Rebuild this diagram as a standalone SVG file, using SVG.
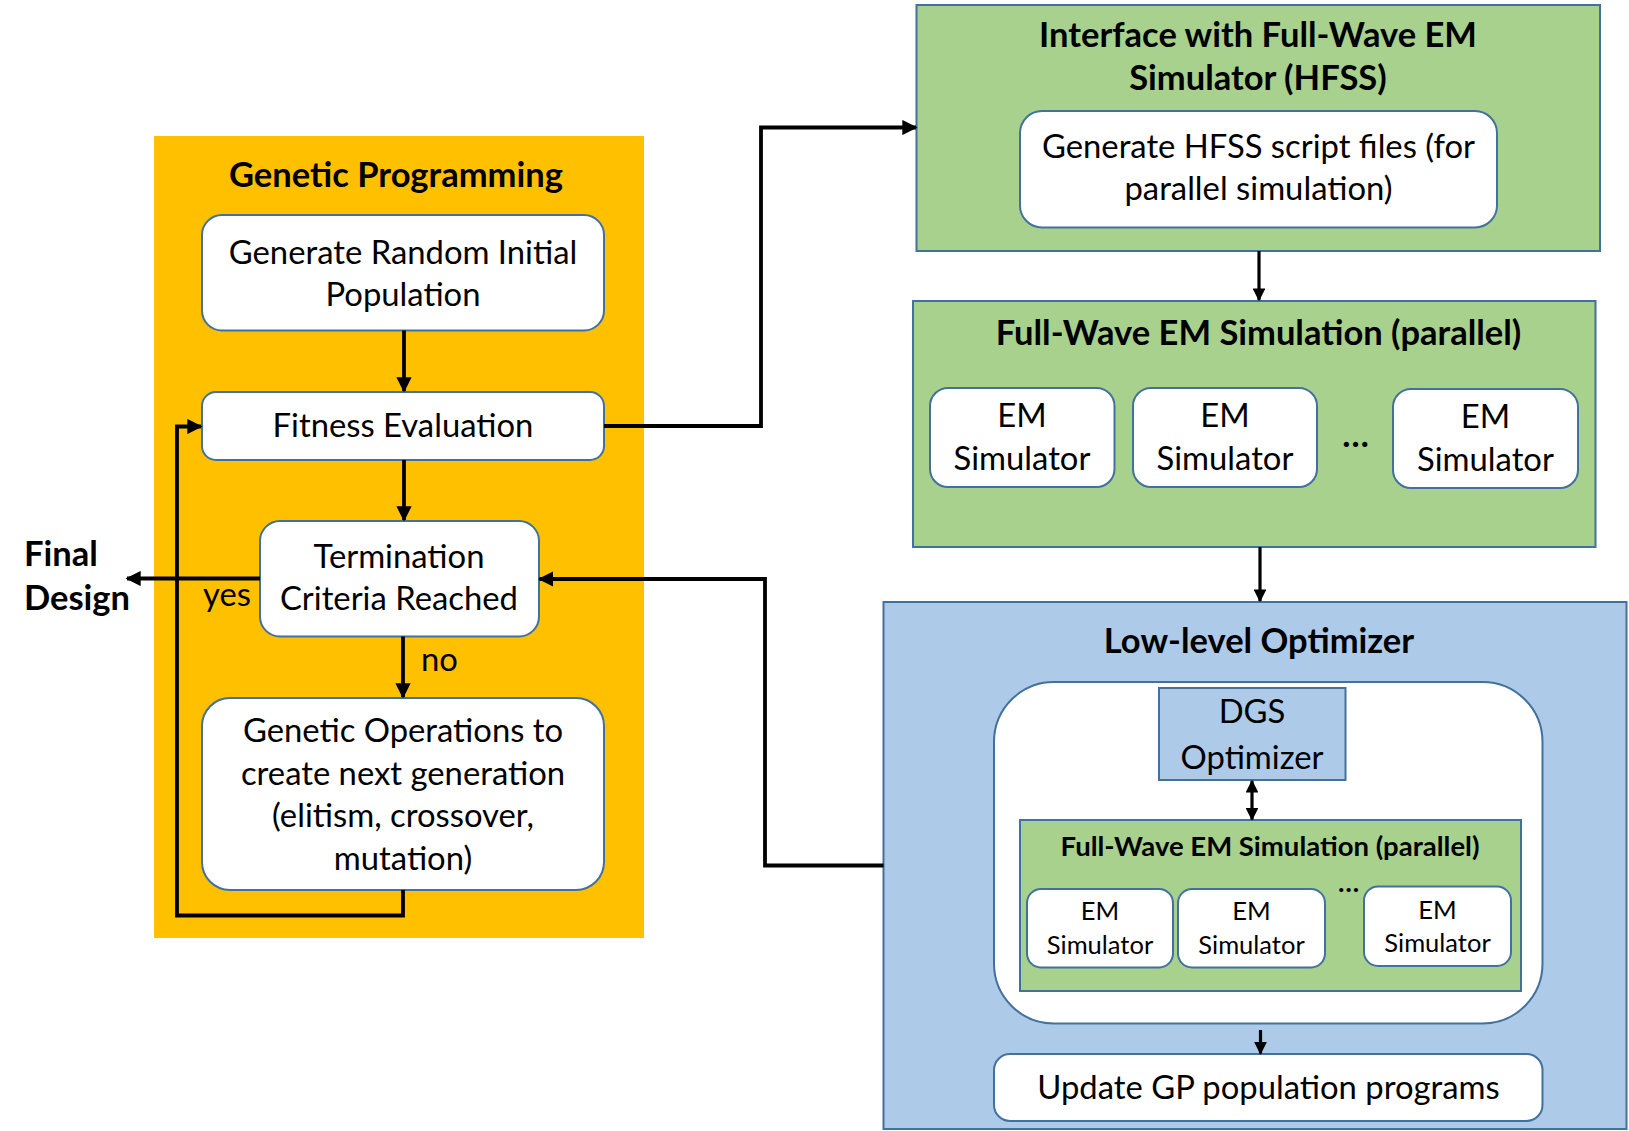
<svg xmlns="http://www.w3.org/2000/svg" width="1629" height="1131" viewBox="0 0 1629 1131">
<defs>
<style>
.t{font-family:Lato,"Liberation Sans",sans-serif;font-size:32.8px;fill:#000;text-anchor:middle}
.b{font-weight:bold;font-size:34.5px}
.s{font-size:25.5px}
.bs{font-weight:bold;font-size:27.5px}
.box{fill:#fff;stroke:#41719C;stroke-width:2}
.grn{fill:#A9D18E;stroke:#41719C;stroke-width:2}
.blu{fill:#ADCBE9;stroke:#41719C;stroke-width:2}
.ln{fill:none;stroke:#000;stroke-width:3.8}
.ln2{fill:none;stroke:#000;stroke-width:3.2}
</style>
<marker id="ah" viewBox="0 0 10 10" refX="9" refY="5" markerWidth="4" markerHeight="4" orient="auto-start-reverse" markerUnits="strokeWidth">
<path d="M0,0 L10,5 L0,10 z" fill="#000"/>
</marker>
</defs>
<rect width="1629" height="1131" fill="#fff"/>

<g id="gp">
<rect x="154" y="136" width="490" height="802" fill="#FFC000"/>
<text class="t b" x="396" y="187">Genetic Programming</text>
</g>

<g id="init">
<rect class="box" x="202" y="215" width="402" height="115.5" rx="20"/>
<text class="t" x="403" y="264">Generate Random Initial</text>
<text class="t" x="403" y="306">Population</text>
</g>

<g id="fitness">
<rect class="box" x="202" y="392" width="402" height="68" rx="14"/>
<text class="t" x="403" y="437">Fitness Evaluation</text>
</g>

<g id="term">
<rect class="box" x="260" y="521" width="279" height="115.5" rx="20"/>
<text class="t" x="399" y="568">Termination</text>
<text class="t" x="399" y="610">Criteria Reached</text>
</g>

<g id="genops">
<rect class="box" x="202" y="698" width="402" height="192" rx="28"/>
<text class="t" x="403" y="742">Genetic Operations to</text>
<text class="t" x="403" y="784.5">create next generation</text>
<text class="t" x="403" y="827">(elitism, crossover,</text>
<text class="t" x="403" y="869.5">mutation)</text>
</g>

<g id="final">
<text class="t b" x="24" y="566" style="text-anchor:start">Final</text>
<text class="t b" x="24" y="610" style="text-anchor:start">Design</text>
</g>

<g id="labels">
<text class="t" x="203" y="606" style="text-anchor:start">yes</text>
<text class="t" x="421" y="671" style="text-anchor:start">no</text>
</g>

<g id="interface">
<rect class="grn" x="916.5" y="5" width="683.5" height="246"/>
<text class="t b" x="1258" y="47">Interface with Full-Wave EM</text>
<text class="t b" x="1258" y="90">Simulator (HFSS)</text>
<rect class="box" x="1020" y="111" width="477" height="116.5" rx="22"/>
<text class="t" x="1258.5" y="158">Generate HFSS script files (for</text>
<text class="t" x="1258.5" y="200">parallel simulation)</text>
</g>

<g id="fullwave">
<rect class="grn" x="913" y="301" width="682.5" height="246"/>
<text class="t b" x="1258.5" y="345">Full-Wave EM Simulation (parallel)</text>
<rect class="box" x="930" y="388" width="184.5" height="99" rx="18"/>
<text class="t" x="1022" y="427">EM</text>
<text class="t" x="1022" y="470">Simulator</text>
<rect class="box" x="1133" y="388" width="184" height="99" rx="18"/>
<text class="t" x="1225" y="427">EM</text>
<text class="t" x="1225" y="470">Simulator</text>
<text class="t b" x="1355.5" y="447">…</text>
<rect class="box" x="1393" y="389" width="185" height="99" rx="18"/>
<text class="t" x="1485.5" y="428">EM</text>
<text class="t" x="1485.5" y="471">Simulator</text>
</g>

<g id="lowlevel">
<rect class="blu" x="883.5" y="602" width="743" height="527"/>
<text class="t b" x="1259" y="653">Low-level Optimizer</text>
<rect class="box" x="994" y="682" width="548.5" height="341.5" rx="60"/>
<rect class="blu" x="1159" y="688" width="186.5" height="92"/>
<text class="t" x="1252" y="723">DGS</text>
<text class="t" x="1252" y="768.5">Optimizer</text>
<rect class="grn" x="1020" y="820" width="501" height="171"/>
<text class="t bs" x="1270" y="855.5">Full-Wave EM Simulation (parallel)</text>
<rect class="box" x="1027" y="889" width="146" height="78.5" rx="14"/>
<text class="t s" x="1100" y="920">EM</text>
<text class="t s" x="1100" y="953.5">Simulator</text>
<rect class="box" x="1178" y="889" width="147" height="78.5" rx="14"/>
<text class="t s" x="1251.5" y="920">EM</text>
<text class="t s" x="1251.5" y="953.5">Simulator</text>
<text class="t bs" x="1348.5" y="892">…</text>
<rect class="box" x="1364" y="886.5" width="147" height="79.5" rx="14"/>
<text class="t s" x="1437.5" y="918.5">EM</text>
<text class="t s" x="1437.5" y="952">Simulator</text>
</g>

<g id="update">
<rect class="box" x="994" y="1054" width="548.5" height="67" rx="16"/>
<text class="t" x="1268.5" y="1098.5">Update GP population programs</text>
</g>

<g id="connectors">
<line class="ln" x1="404" y1="330.5" x2="404" y2="391" marker-end="url(#ah)"/>
<line class="ln" x1="404" y1="460" x2="404" y2="520" marker-end="url(#ah)"/>
<line class="ln" x1="403" y1="636.5" x2="403" y2="697" marker-end="url(#ah)"/>
<line class="ln" x1="260" y1="578.5" x2="127" y2="578.5" marker-end="url(#ah)"/>
<polyline class="ln" points="403,890 403,915.5 177,915.5 177,426.5 201,426.5" marker-end="url(#ah)"/>
<polyline class="ln" points="604,426 761,426 761,127.5 916,127.5" marker-end="url(#ah)"/>
<line class="ln2" x1="1259" y1="251" x2="1259" y2="300" marker-end="url(#ah)"/>
<line class="ln2" x1="1260" y1="547" x2="1260" y2="601" marker-end="url(#ah)"/>
<polyline class="ln" points="883.5,865.5 765,865.5 765,579 539.5,579" marker-end="url(#ah)"/>
<line class="ln2" x1="1252" y1="781" x2="1252" y2="819.5" marker-start="url(#ah)" marker-end="url(#ah)"/>
<line class="ln2" x1="1260.5" y1="1030" x2="1260.5" y2="1053.5" marker-end="url(#ah)"/>
</g>
</svg>
